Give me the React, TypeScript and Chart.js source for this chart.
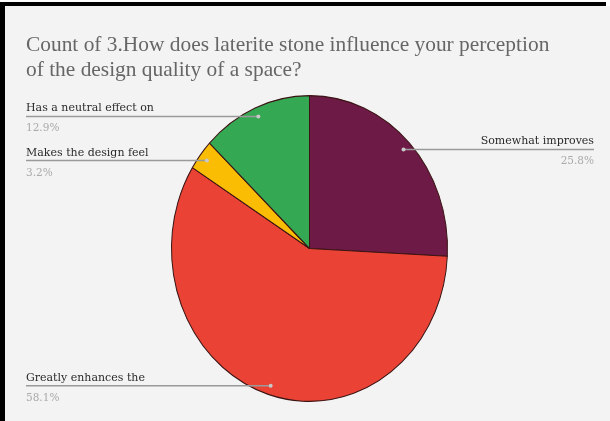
import React, { useEffect, useRef } from "react";
import { Chart, registerables } from "chart.js";

Chart.register(...registerables);

const TITLE_LINES = [
  "Count of 3.How does laterite stone influence your perception",
  "of the design quality of a space?",
];
const CATEGORIES = [
  "Somewhat improves",
  "Greatly enhances the",
  "Makes the design feel",
  "Has a neutral effect on",
];
const COUNTS = [8, 18, 1, 4];
const COLORS = ["#6e1a46", "#ea4335", "#fbbc04", "#34a853"];

const W = 610;
const H = 421;
const Y_SCALE = 1.108;

const framePlugin = {
  id: "frame",
  beforeDraw(chart: any) {
    const ctx = chart.ctx;
    ctx.save();
    ctx.fillStyle = "#ffffff";
    ctx.fillRect(0, 0, W, H);
    ctx.fillStyle = "#f3f3f3";
    ctx.fillRect(5, 6, W - 5, H - 6);
    ctx.fillStyle = "#000000";
    ctx.fillRect(0, 2, W - 4, 4);
    ctx.fillRect(0, 2, 5, H - 2);
    // title
    ctx.fillStyle = "#666666";
    ctx.font = "21.4px 'Liberation Serif'";
    ctx.textBaseline = "alphabetic";
    ctx.textAlign = "left";
    TITLE_LINES.forEach((t, i) => ctx.fillText(t, 26, 51 + i * 25));
    ctx.restore();
  },
};

const ellipsePlugin = {
  id: "ellipse",
  beforeDatasetsDraw(chart: any) {
    const el = chart.getDatasetMeta(0).data[0];
    if (!el) return;
    const ctx = chart.ctx;
    ctx.save();
    ctx.translate(el.x, el.y);
    ctx.scale(1, Y_SCALE);
    ctx.translate(-el.x, -el.y);
  },
  afterDatasetsDraw(chart: any) {
    chart.ctx.restore();
  },
};

const labelPlugin = {
  id: "sliceLabels",
  afterDraw(chart: any) {
    const ctx = chart.ctx;
    const meta = chart.getDatasetMeta(0);
    const data = chart.data.datasets[0].data as number[];
    const total = data.reduce((a, b) => a + b, 0);
    ctx.save();
    meta.data.forEach((el: any, i: number) => {
      const p = el.getProps(["x", "y", "startAngle", "endAngle", "outerRadius"], true);
      const mid = (p.startAngle + p.endAngle) / 2;
      const ax = p.x + Math.cos(mid) * p.outerRadius * 0.94;
      const ay = p.y + Math.sin(mid) * p.outerRadius * 0.94 * Y_SCALE;
      const right = Math.cos(mid) > 0;
      const edgeX = right ? 594 : 26;
      ctx.strokeStyle = "#9a9a9a";
      ctx.lineWidth = 1.5;
      ctx.beginPath();
      ctx.moveTo(edgeX, ay);
      ctx.lineTo(ax, ay);
      ctx.stroke();
      ctx.fillStyle = "#c8c8c8";
      ctx.beginPath();
      ctx.arc(ax, ay, 2, 0, Math.PI * 2);
      ctx.fill();
      ctx.textAlign = right ? "right" : "left";
      ctx.fillStyle = "#2a2a2a";
      ctx.font = "11px 'DejaVu Serif'";
      ctx.textBaseline = "alphabetic";
      ctx.fillText(CATEGORIES[i], edgeX, ay - 5);
      ctx.fillStyle = "#aaaaaa";
      ctx.font = "10.5px 'DejaVu Serif'";
      ctx.textBaseline = "top";
      ctx.fillText(((data[i] / total) * 100).toFixed(1) + "%", edgeX, ay + 7);
    });
    ctx.restore();
  },
};

export default function App() {
  const ref = useRef<HTMLCanvasElement | null>(null);
  useEffect(() => {
    if (!ref.current) return;
    const chart = new Chart(ref.current, {
      type: "pie",
      data: {
        labels: CATEGORIES,
        datasets: [
          {
            data: COUNTS,
            backgroundColor: COLORS,
            borderColor: "#3b1414",
            borderWidth: 1,
            clip: false,
          } as any,
        ],
      },
      options: {
        animation: false,
        responsive: false,
        maintainAspectRatio: false,
        layout: { padding: { left: 171, right: 162, top: 110, bottom: 34 } },
        plugins: {
          legend: { display: false },
          tooltip: { enabled: false },
          title: { display: false },
        },
      },
      plugins: [framePlugin, ellipsePlugin, labelPlugin],
    });
    return () => chart.destroy();
  }, []);
  return (
    <div style={{ position: "absolute", left: 0, top: 0, width: W, height: H }}>
      <canvas ref={ref} width={W} height={H} style={{ display: "block" }} />
    </div>
  );
}
